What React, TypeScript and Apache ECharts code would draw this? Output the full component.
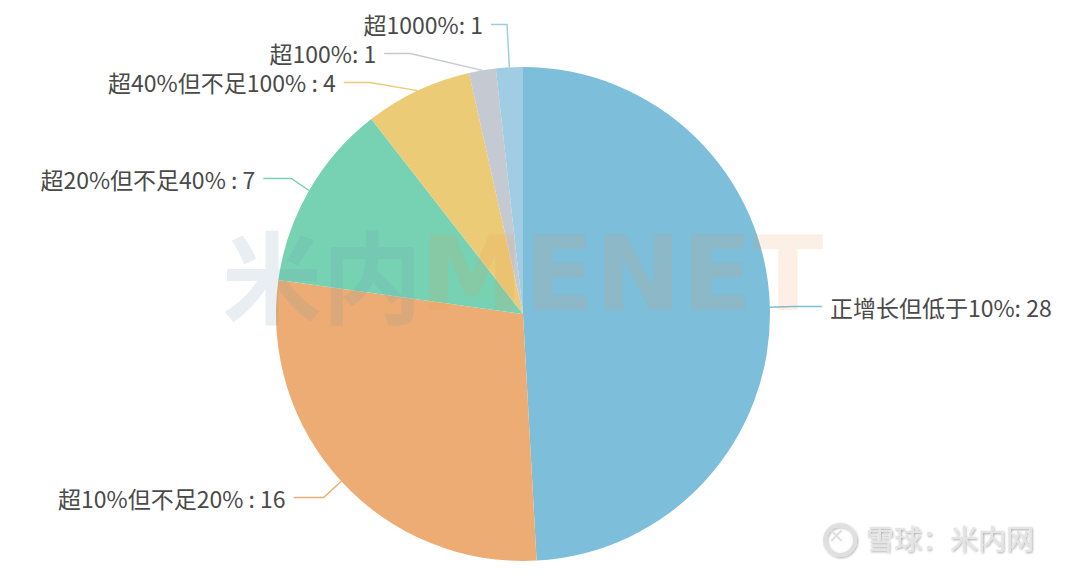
import React, { useEffect, useRef } from "react";
import * as echarts from "echarts";

const names = ["正增长但低于10%", "超10%但不足20% ", "超20%但不足40% ", "超40%但不足100% ", "超100%", "超1000%"];
const values = [28, 16, 7, 4, 1, 1];
const colors = ["#7dbedb", "#edac73", "#76d2b3", "#eccb76", "#c5cad2", "#a0cde3"];
const lineLen = [22, 24, 24, 20, 26, 43];
const lineLen2 = [30, 30, 28, 26, 26, 16];

export default function App() {
  const ref = useRef<HTMLDivElement>(null);
  useEffect(() => {
    const chart = echarts.init(ref.current!, null, { renderer: "svg" });
    chart.setOption({
      animation: false,
      backgroundColor: "#ffffff",
      series: [
        {
          type: "pie",
          center: [523, 314],
          radius: 247,
          startAngle: 90,
          clockwise: true,
          data: names.map((n, i) => ({
            name: n,
            value: values[i],
            itemStyle: { color: colors[i] },
            labelLine: { length: lineLen[i], length2: lineLen2[i] },
          })),
          label: {
            show: true,
            formatter: "{b}: {c}",
            fontSize: 23,
            lineHeight: 27,
            color: "#4a4a4a",
            fontFamily: "Noto Sans CJK SC",
            distanceToLabelLine: 8,
          },
          labelLine: { show: true, smooth: false, lineStyle: { width: 1.5 } },
        },
      ],
      graphic: [
        {
          type: "text",
          left: 222,
          top: 222,
          z: 100,
          style: {
            text: "米内",
            font: "bold 100px 'Noto Sans CJK SC'",
            fill: "rgba(110,150,170,0.16)",
          },
        },
        {
          type: "text",
          left: 420,
          top: 222,
          z: 100,
          style: {
            text: "MENET",
            font: "bold 104px 'DejaVu Sans'",
            fill: "rgba(235,150,80,0.14)",
          },
        },
        {
          type: "ring",
          shape: { cx: 840, cy: 540, r: 17, r0: 13 },
          style: { fill: "#e0e0e0", shadowColor: "rgba(0,0,0,0.3)", shadowBlur: 2, shadowOffsetX: 1, shadowOffsetY: 1 },
        },
        {
          type: "text",
          left: 828,
          top: 526,
          style: { text: "✕", font: "20px 'DejaVu Sans'", fill: "#e0e0e0" },
        },
        {
          type: "text",
          left: 866,
          top: 524,
          style: {
            text: "雪球：米内网",
            font: "28px 'Noto Sans CJK SC'",
            fill: "#e4e4e4",
            textShadowColor: "rgba(0,0,0,0.35)",
            textShadowBlur: 2,
            textShadowOffsetX: 1,
            textShadowOffsetY: 1,
          },
        },
      ],
    });
    return () => chart.dispose();
  }, []);
  return <div ref={ref} style={{ width: 1080, height: 573, position: "absolute", left: 0, top: 0 }} />;
}
